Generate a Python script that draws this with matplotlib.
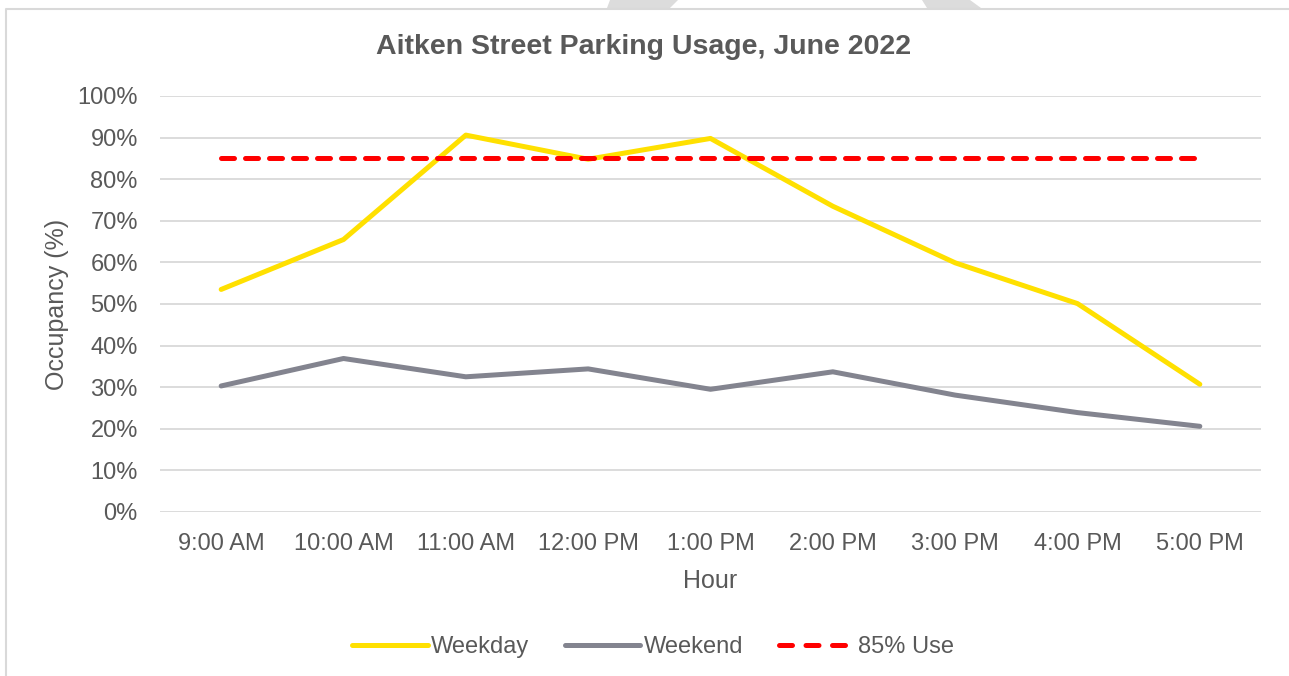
import matplotlib.pyplot as plt
from matplotlib.patches import Polygon
from matplotlib.lines import Line2D

plt.rcParams["font.family"] = ["Liberation Sans", "DejaVu Sans"]

# data
hours = ["9:00 AM", "10:00 AM", "11:00 AM", "12:00 PM", "1:00 PM",
         "2:00 PM", "3:00 PM", "4:00 PM", "5:00 PM"]
weekday = [53.5, 65.5, 90.6, 84.8, 89.8, 73.5, 59.9, 50.1, 30.7]
weekend = [30.3, 36.9, 32.5, 34.4, 29.5, 33.7, 28.1, 23.9, 20.6]
target = [85] * len(hours)
yticks = list(range(0, 101, 10))

txt = "#595959"
W, H = 1289, 676

fig = plt.figure(figsize=(W / 100, H / 100), dpi=100)

# grey shapes peeking in at the top edge of the page
for pts in ([(610, 0), (678, 0), (670, 8), (607, 8)],
            [(922, 0), (970, 0), (981, 8), (927, 8)]):
    fig.patches.append(Polygon([(x / W, 1 - y / H) for x, y in pts],
                               closed=True, transform=fig.transFigure,
                               facecolor="#DCDCDC", edgecolor="none"))

# chart frame (only left and top edges are inside the picture)
fig.add_artist(Line2D([5.5 / W, 5.5 / W, 1.0], [0.0, 1 - 8.5 / H, 1 - 8.5 / H],
                      transform=fig.transFigure, color="#D9D9D9", lw=1.5))

ax = fig.add_axes([160 / W, 1 - 512 / H, 1101 / W, 416 / H])
x = range(len(hours))

ax.plot(x, weekday, color="#FFE000", lw=3.6, solid_capstyle="round",
        solid_joinstyle="round", label="Weekday", zorder=3)
ax.plot(x, weekend, color="#83848F", lw=3.6, solid_capstyle="round",
        solid_joinstyle="round", label="Weekend", zorder=3)
ax.plot(x, target, color="#FF0000", lw=3.6, dashes=(2.6, 2.2),
        dash_capstyle="round", label="85% Use", zorder=4)

ax.set_xlim(-0.5, len(hours) - 0.5)
ax.set_ylim(0, 100)
ax.set_yticks(yticks)
ax.set_yticklabels([f"{v}%" for v in yticks])
ax.set_xticks(list(x))
ax.set_xticklabels(hours)
ax.tick_params(axis="both", length=0, labelsize=17, labelcolor=txt)
ax.tick_params(axis="x", pad=15)
ax.tick_params(axis="y", pad=16)
ax.grid(axis="y", color="#D9D9D9", lw=1.3)
ax.set_axisbelow(True)
for s in ax.spines.values():
    s.set_visible(False)

ax.set_xlabel("Hour", fontsize=18, color=txt, labelpad=10)
ax.set_ylabel("Occupancy (%)", fontsize=18, color=txt, labelpad=6)

fig.text(0.499, 1 - 47 / H, "Aitken Street Parking Usage, June 2022",
         ha="center", va="center", fontsize=20.5, fontweight="bold", color=txt)

leg = fig.legend(loc="center", bbox_to_anchor=(653 / W, 1 - 647 / H), ncol=3,
                 frameon=False, fontsize=17, labelcolor=txt, handlelength=3.2,
                 handletextpad=0.15, columnspacing=1.5)
# three whole dashes in the legend sample, as in the original
leg.legend_handles[2].set_dashes((2.6, 2.7))

fig.savefig("out.png", dpi=100)
